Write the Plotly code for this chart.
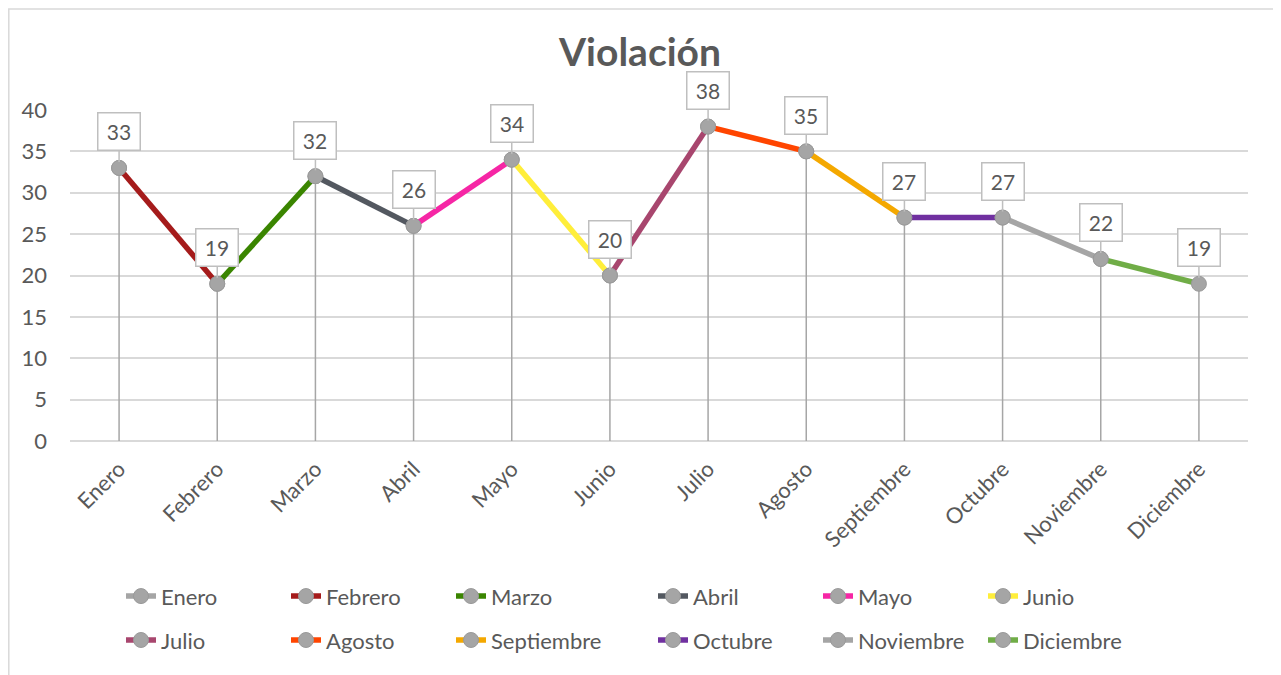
import plotly.graph_objects as go

months = ["Enero", "Febrero", "Marzo", "Abril", "Mayo", "Junio", "Julio",
          "Agosto", "Septiembre", "Octubre", "Noviembre", "Diciembre"]
values = [33, 19, 32, 26, 34, 20, 38, 35, 27, 27, 22, 19]
colors = ["#A5A5A5", "#A51B1B", "#3A8500", "#535860", "#F626A5", "#FFEE3A",
          "#A8466E", "#FF4500", "#F4A800", "#7030A0", "#A5A5A5", "#70AD47"]

FONT = "Lato"
TXT = "#595959"
OFF = 8  # page body margin
W, H = 1281 - OFF, 675 - OFF

fig = go.Figure()

# drop lines
dx, dy = [], []
for m, v in zip(months, values):
    dx += [m, m, None]
    dy += [v, 0, None]
fig.add_trace(go.Scatter(x=dx, y=dy, mode="lines", line=dict(color="#A6A6A6", width=1.5),
                         showlegend=False, hoverinfo="skip"))

legend_ids = ["legend", "legend", "legend", "legend2", "legend2", "legend2",
              "legend3", "legend3", "legend3", "legend4", "legend4", "legend4"]

for i, (m, c) in enumerate(zip(months, colors)):
    if i == 0:
        xs, ys = [months[0]], [values[0]]
    else:
        xs, ys = [months[i - 1], months[i]], [values[i - 1], values[i]]
    fig.add_trace(go.Scatter(
        x=xs, y=ys, name=m, mode="lines+markers",
        line=dict(color=c, width=5.5),
        marker=dict(color="#A5A5A5", size=15, line=dict(color="#9A9A9A", width=1)),
        legend=legend_ids[i],
    ))

for m, v in zip(months, values):
    fig.add_annotation(x=m, y=v, text=str(v), showarrow=True, arrowhead=0,
                       ax=0, ay=-36, arrowcolor="#BFBFBF", arrowwidth=1.5, standoff=6,
                       bgcolor="white", bordercolor="#BFBFBF", borderwidth=1.5,
                       borderpad=6, width=29, height=24,
                       font=dict(family=FONT, size=21, color=TXT))

# plot area in figure pixels
L = 70 - OFF
T = 110 - OFF
R = W - (1248 - OFF)
B = H - (441.5 - OFF)
pw, ph = W - L - R, H - T - B


def px_x(x):
    return (x - OFF - L) / pw


def px_y(y):
    return (H - B - (y - OFF)) / ph


fig.add_shape(type="rect", xref="paper", yref="paper",
              x0=px_x(OFF + 0.8), x1=px_x(1277),
              y0=px_y(690), y1=px_y(OFF + 0.8),
              line=dict(color="#D9D9D9", width=1.5), fillcolor="rgba(0,0,0,0)", layer="below")

leg_common = dict(orientation="h", font=dict(family=FONT, size=22, color=TXT),
                  entrywidth=120, entrywidthmode="pixels", yanchor="middle",
                  xanchor="left", bgcolor="rgba(0,0,0,0)", tracegroupgap=0)
row1 = px_y(597)
row2 = px_y(641)
colL = px_x(121)
colR = px_x(653)

fig.update_layout(
    width=W, height=H,
    margin=dict(l=L, r=R, t=T, b=B),
    paper_bgcolor="white", plot_bgcolor="white",
    font=dict(family=FONT, color=TXT),
    title=dict(text="<b>Violación</b>", x=(640 - OFF) / W, xref="container", xanchor="center",
               y=1 - (52 - OFF) / H, yref="container", yanchor="middle",
               font=dict(family=FONT, size=39, color=TXT)),
    xaxis=dict(type="category", categoryorder="array", categoryarray=months,
               range=[-0.5, 11.5], showgrid=False, tickangle=-45,
               tickfont=dict(family=FONT, size=22, color=TXT), ticks="",
               ticklabelstandoff=10, showline=False, zeroline=False),
    yaxis=dict(range=[0, 40], dtick=5, showgrid=True, gridcolor="#D9D9D9", gridwidth=1.5,
               zeroline=True, zerolinecolor="#D9D9D9", zerolinewidth=2,
               tickfont=dict(family=FONT, size=22, color=TXT), ticks="",
               ticklabelstandoff=22, showline=False),
    legend=dict(x=colL, y=row1, **leg_common),
    legend2=dict(x=colR, y=row1, **leg_common),
    legend3=dict(x=colL, y=row2, **leg_common),
    legend4=dict(x=colR, y=row2, **leg_common),
    showlegend=True,
)

fig.write_html("out.html")
